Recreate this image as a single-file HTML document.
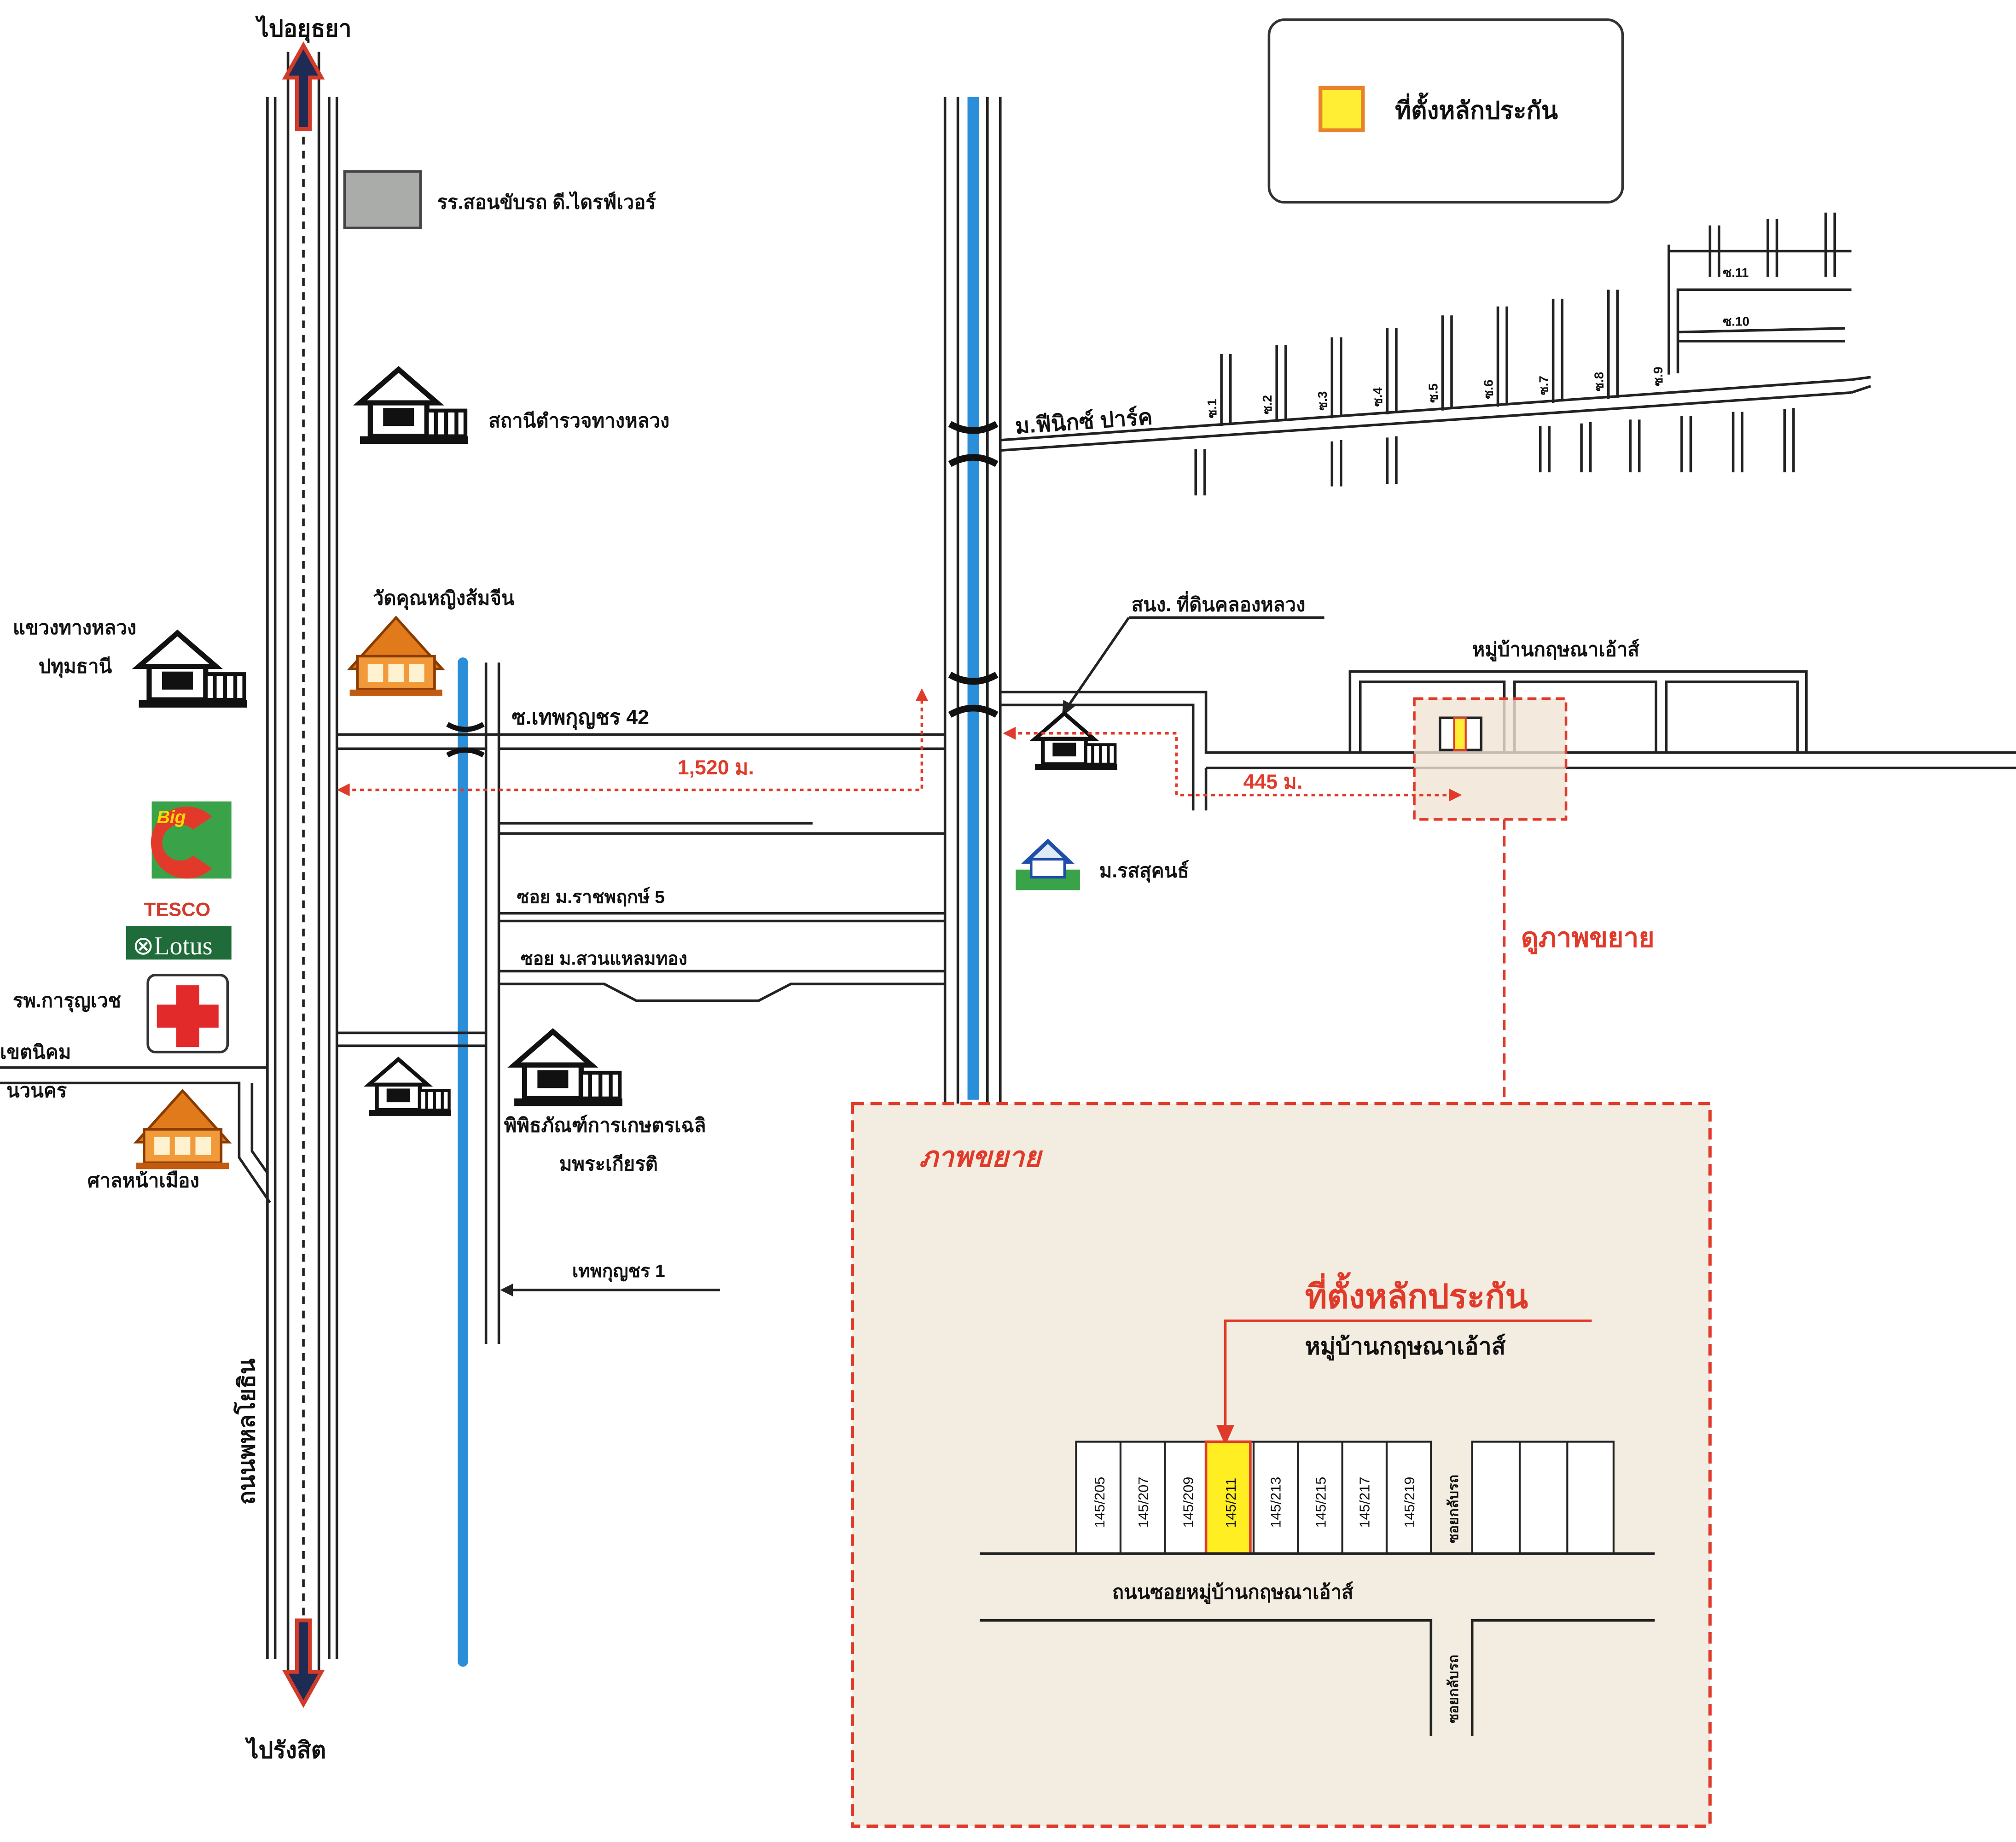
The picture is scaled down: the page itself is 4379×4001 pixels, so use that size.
<!DOCTYPE html>
<html><head><meta charset="utf-8">
<style>
html,body{margin:0;padding:0;background:#fff;}
svg{display:block;}
text{font-family:"Liberation Sans","DejaVu Sans",sans-serif;font-weight:bold;fill:#111;}
</style></head>
<body>
<svg width="4379" height="4001" viewBox="0 0 1568 1432" xmlns="http://www.w3.org/2000/svg">
<defs>
<g id="hut">
  <polygon points="0,28 30,2 60,28" fill="#fff" stroke="#111" stroke-width="4"/>
  <rect x="8" y="28" width="44" height="26" fill="#fff" stroke="#111" stroke-width="4"/>
  <rect x="18" y="32" width="24" height="14" fill="#111"/>
  <rect x="52" y="34" width="30" height="20" fill="#fff" stroke="#111" stroke-width="3"/>
  <line x1="59" y1="34" x2="59" y2="54" stroke="#111" stroke-width="3"/>
  <line x1="67" y1="34" x2="67" y2="54" stroke="#111" stroke-width="3"/>
  <line x1="75" y1="34" x2="75" y2="54" stroke="#111" stroke-width="3"/>
  <rect x="0" y="54" width="84" height="6" fill="#111"/>
</g>
<g id="temple">
  <polygon points="0,40 36,0 72,40" fill="#e07a1a" stroke="#8a3b00" stroke-width="2"/>
  <rect x="6" y="30" width="60" height="26" fill="#f29a3a" stroke="#8a3b00" stroke-width="2"/>
  <rect x="14" y="36" width="12" height="14" fill="#fff2d0"/>
  <rect x="30" y="36" width="12" height="14" fill="#fff2d0"/>
  <rect x="46" y="36" width="12" height="14" fill="#fff2d0"/>
  <rect x="0" y="56" width="72" height="5" fill="#c25a10"/>
</g>
<g id="bridge">
  <path d="M-14,-12 Q0,-4 14,-12 M-14,12 Q0,4 14,12" fill="none" stroke="#111" stroke-width="4"/>
</g>
</defs>

<!-- Main highway -->
<g stroke="#222" stroke-width="2" fill="none">
  <line x1="208" y1="75" x2="208" y2="1290"/>
  <line x1="214" y1="75" x2="214" y2="1290"/>
  <line x1="224" y1="40" x2="224" y2="1300"/>
  <line x1="248" y1="40" x2="248" y2="1300"/>
  <line x1="256" y1="75" x2="256" y2="1290"/>
  <line x1="262" y1="75" x2="262" y2="1290"/>
  <line x1="236" y1="40" x2="236" y2="1300" stroke-dasharray="6,5"/>
</g>
<!-- arrows -->
<g>
  <polygon points="236,35 222,60 231,60 231,100 241,100 241,60 250,60" fill="#1d2b55" stroke="#d23a2a" stroke-width="3"/>
  <polygon points="236,1325 222,1300 231,1300 231,1260 241,1260 241,1300 250,1300" fill="#1d2b55" stroke="#d23a2a" stroke-width="3"/>
</g>
<text x="200" y="28" font-size="18">ไปอยุธยา</text>
<text x="192" y="1367" font-size="18">ไปรังสิต</text>
<text transform="translate(198,1170) rotate(-90)" font-size="18">ถนนพหลโยธิน</text>

<!-- left POIs -->
<rect x="268" y="133" width="59" height="44" fill="#a9aca9" stroke="#444" stroke-width="2"/>
<text x="340" y="162" font-size="15">รร.สอนขับรถ ดี.ไดรฟ์เวอร์</text>
<use href="#hut" transform="translate(280,285)"/>
<text x="380" y="332" font-size="15">สถานีตำรวจทางหลวง</text>
<use href="#temple" transform="translate(272,480)"/>
<text x="290" y="470" font-size="15">วัดคุณหญิงส้มจีน</text>
<use href="#hut" transform="translate(108,490)"/>
<text x="10" y="493" font-size="15">แขวงทางหลวง</text>
<text x="30" y="523" font-size="15">ปทุมธานี</text>
<rect x="118" y="623" width="62" height="60" fill="#3aa34a"/>
<path d="M165,635 A28,28 0 1 0 165,675 L150,665 A14,14 0 1 1 150,645 Z" fill="#e23a2a"/>
<text x="122" y="640" font-size="14" fill="#ffd800" style="fill:#ffd800;font-style:italic">Big</text>
<text x="112" y="712" font-size="15" style="fill:#d23a2a">TESCO</text>
<rect x="98" y="720" width="82" height="26" fill="#1f6b3a"/>
<text x="103" y="742" font-size="20" style="fill:#fff;font-weight:normal;font-family:'Liberation Serif',serif">⊗Lotus</text>
<rect x="115" y="758" width="62" height="60" rx="6" fill="#fff" stroke="#333" stroke-width="2"/>
<path d="M137,766 h18 v15 h15 v18 h-15 v15 h-18 v-15 h-15 v-18 h15z" fill="#e22a2a"/>
<text x="10" y="783" font-size="15">รพ.การุญเวช</text>
<text x="0" y="823" font-size="15">เขตนิคม</text>
<text x="5" y="853" font-size="15">นวนคร</text>
<g stroke="#222" stroke-width="2" fill="none">
  <line x1="0" y1="830" x2="208" y2="830"/>
  <path d="M0,842 H186 V900 L210,935"/>
  <path d="M196,842 V895 L208,912"/>
</g>
<use href="#temple" transform="translate(106,848)"/>
<text x="68" y="923" font-size="15">ศาลหน้าเมือง</text>

<!-- canal 1 and road -->
<line x1="360" y1="515" x2="360" y2="1292" stroke="#2a8ed8" stroke-width="8" stroke-linecap="round"/>
<g stroke="#222" stroke-width="2" fill="none">
  <line x1="378" y1="515" x2="378" y2="1045"/>
  <line x1="388" y1="515" x2="388" y2="1045"/>
  <line x1="262" y1="571" x2="735" y2="571"/>
  <line x1="262" y1="582" x2="378" y2="582"/>
  <line x1="388" y1="582" x2="735" y2="582"/>
  <line x1="388" y1="640" x2="632" y2="640"/>
  <line x1="388" y1="648" x2="735" y2="648"/>
  <line x1="388" y1="710" x2="735" y2="710"/>
  <line x1="388" y1="716" x2="735" y2="716"/>
  <line x1="388" y1="755" x2="735" y2="755"/>
  <path d="M388,765 H470 L495,778 H590 L615,765 H735"/>
  <line x1="262" y1="803" x2="378" y2="803"/>
  <line x1="262" y1="813" x2="378" y2="813"/>
</g>
<use href="#bridge" transform="translate(362,575)"/>
<text x="398" y="563" font-size="16">ซ.เทพกุญชร 42</text>
<g stroke="#e03a2a" stroke-width="2" fill="none" stroke-dasharray="3,3">
  <polyline points="268,614 717,614 717,542"/>
</g>
<polygon points="262,614 272,609 272,619" fill="#e03a2a"/>
<polygon points="717,535 712,545 722,545" fill="#e03a2a"/>
<text x="527" y="602" font-size="16" style="fill:#e03a2a">1,520 ม.</text>
<text x="402" y="702" font-size="14">ซอย ม.ราชพฤกษ์ 5</text>
<text x="405" y="750" font-size="14">ซอย ม.สวนแหลมทอง</text>
<use href="#hut" transform="translate(287,822) scale(0.76)"/>
<use href="#hut" transform="translate(400,800)"/>
<text x="392" y="880" font-size="15">พิพิธภัณฑ์การเกษตรเฉลิ</text>
<text x="435" y="910" font-size="15">มพระเกียรติ</text>
<text x="445" y="993" font-size="14">เทพกุญชร 1</text>
<line x1="560" y1="1003" x2="395" y2="1003" stroke="#222" stroke-width="2"/>
<polygon points="389,1003 399,998 399,1008" fill="#222"/>

<!-- canal 2 -->
<line x1="757" y1="75" x2="757" y2="855" stroke="#2a8ed8" stroke-width="9"/>
<g stroke="#222" stroke-width="2" fill="none">
  <line x1="735" y1="75" x2="735" y2="858"/>
  <line x1="745" y1="75" x2="745" y2="858"/>
  <line x1="768" y1="75" x2="768" y2="858"/>
  <line x1="778" y1="75" x2="778" y2="858"/>
</g>
<use href="#bridge" transform="translate(757,345) scale(1.3)"/>
<use href="#bridge" transform="translate(757,540) scale(1.3)"/>

<!-- Phoenix park -->
<g stroke="#222" stroke-width="2" fill="none">
  <line x1="778" y1="342" x2="1440" y2="295"/>
  <line x1="778" y1="350" x2="1440" y2="305"/>
  <path d="M1440,295 L1455,293 M1440,305 L1455,300"/>
  <path d="M1298,291 V195 H1440 M1305,290 V225 H1440 M1305,265 H1435 M1305,258 V258 M1298,195 V190"/>
  <line x1="1305" y1="258" x2="1435" y2="255"/>
  <path d="M1330,215 V175 M1337,215 V175 M1375,215 V170 M1382,215 V170 M1420,215 V165 M1427,215 V165"/>
</g>
<g stroke="#222" stroke-width="2" fill="none" id="ups">
  <path d="M950,331 V275 M957,330 V275"/>
  <path d="M993,328 V268 M1000,327 V268"/>
  <path d="M1036,325 V262 M1043,324 V262"/>
  <path d="M1079,322 V255 M1086,321 V255"/>
  <path d="M1122,319 V245 M1129,318 V245"/>
  <path d="M1165,316 V238 M1172,315 V238"/>
  <path d="M1208,313 V232 M1215,312 V232"/>
  <path d="M1251,310 V225 M1258,309 V225"/>
  <path d="M930,349 V385 M937,349 V385"/>
  <path d="M1036,343 V378 M1043,342 V378"/>
  <path d="M1079,340 V376 M1086,339 V376"/>
  <path d="M1198,331 V367 M1205,331 V367"/>
  <path d="M1230,329 V367 M1237,328 V367"/>
  <path d="M1268,326 V367 M1275,326 V367"/>
  <path d="M1308,323 V367 M1315,323 V367"/>
  <path d="M1348,320 V367 M1355,320 V367"/>
  <path d="M1388,318 V367 M1395,317 V367"/>
</g>
<g font-size="10">
  <text transform="translate(946,325) rotate(-90)">ซ.1</text>
  <text transform="translate(989,322) rotate(-90)">ซ.2</text>
  <text transform="translate(1032,319) rotate(-90)">ซ.3</text>
  <text transform="translate(1075,316) rotate(-90)">ซ.4</text>
  <text transform="translate(1118,313) rotate(-90)">ซ.5</text>
  <text transform="translate(1161,310) rotate(-90)">ซ.6</text>
  <text transform="translate(1204,307) rotate(-90)">ซ.7</text>
  <text transform="translate(1247,304) rotate(-90)">ซ.8</text>
  <text transform="translate(1293,300) rotate(-90)">ซ.9</text>
  <text x="1340" y="253">ซ.10</text>
  <text x="1340" y="215">ซ.11</text>
</g>
<text x="790" y="337" font-size="17" transform="rotate(-4 790 337)">ม.ฟีนิกซ์ ปาร์ค</text>

<!-- legend -->
<rect x="987" y="15" width="275" height="142" rx="12" fill="#fff" stroke="#333" stroke-width="2"/>
<rect x="1027" y="68" width="33" height="33" fill="#ffee33" stroke="#e8832a" stroke-width="3"/>
<text x="1085" y="92" font-size="19">ที่ตั้งหลักประกัน</text>

<!-- land office -->
<text x="880" y="475" font-size="15">สนง. ที่ดินคลองหลวง</text>
<line x1="878" y1="480" x2="1030" y2="480" stroke="#222" stroke-width="2"/>
<line x1="878" y1="480" x2="830" y2="550" stroke="#222" stroke-width="2"/>
<polygon points="826,557 827,544 836,549" fill="#222"/>
<use href="#hut" transform="translate(805,553) scale(0.76)"/>
<g stroke="#222" stroke-width="2" fill="none">
  <path d="M778,538 H938 V585 H1568"/>
  <path d="M778,548 H928 V630 M938,597 V630 M938,597 H1568"/>
  <rect x="1050" y="522" width="355" height="63"/>
  <rect x="1058" y="530" width="112" height="55"/>
  <rect x="1178" y="530" width="110" height="55"/>
  <rect x="1296" y="530" width="102" height="55"/>
</g>
<text x="1145" y="510" font-size="15">หมู่บ้านกฤษณาเอ้าส์</text>
<rect x="1100" y="543" width="118" height="94" fill="#f0e4d4" fill-opacity="0.8" stroke="#e03a2a" stroke-width="2" stroke-dasharray="7,4"/>
<rect x="1120" y="558" width="32" height="25" fill="#fff" stroke="#222" stroke-width="2"/>
<rect x="1131" y="558" width="9" height="25" fill="#ffee33" stroke="#e03a2a" stroke-width="1.5"/>
<g stroke="#e03a2a" stroke-width="2" fill="none" stroke-dasharray="3,3">
  <polyline points="786,570 915,570 915,618 1130,618"/>
</g>
<polygon points="780,570 790,565 790,575" fill="#e03a2a"/>
<polygon points="1137,618 1127,613 1127,623" fill="#e03a2a"/>
<text x="967" y="613" font-size="16" style="fill:#e03a2a">445 ม.</text>
<g transform="translate(790,648)">
  <rect x="0" y="28" width="50" height="16" fill="#3aa34a"/>
  <polygon points="8,22 25,6 42,22" fill="#dfe9f7" stroke="#1f4ea8" stroke-width="3"/>
  <rect x="12" y="20" width="26" height="14" fill="#fff" stroke="#1f4ea8" stroke-width="2"/>
</g>
<text x="855" y="682" font-size="15">ม.รสสุคนธ์</text>
<text x="1183" y="736" font-size="21" style="fill:#e03a2a">ดูภาพขยาย</text>
<line x1="1170" y1="637" x2="1170" y2="858" stroke="#e03a2a" stroke-width="2" stroke-dasharray="8,5"/>

<!-- enlarged view -->
<rect x="663" y="858" width="667" height="562" fill="#f3ece0" stroke="#e03a2a" stroke-width="2.5" stroke-dasharray="9,5"/>
<text x="715" y="907" font-size="22" style="fill:#e03a2a;font-style:italic">ภาพขยาย</text>
<text x="1015" y="1017" font-size="26" style="fill:#e03a2a">ที่ตั้งหลักประกัน</text>
<text x="1015" y="1053" font-size="18">หมู่บ้านกฤษณาเอ้าส์</text>
<polyline points="1238,1027 953,1027 953,1112" fill="none" stroke="#e03a2a" stroke-width="2"/>
<polygon points="953,1124 946,1108 960,1108" fill="#e03a2a"/>
<g stroke="#222" stroke-width="1.5">
  <rect x="837" y="1121" width="276" height="87" fill="#fff"/>
  <rect x="938" y="1121" width="34.5" height="87" fill="#ffee22" stroke="#e03a2a" stroke-width="2"/>
  <line x1="871.5" y1="1121" x2="871.5" y2="1208"/>
  <line x1="906" y1="1121" x2="906" y2="1208"/>
  <line x1="975" y1="1121" x2="975" y2="1208"/>
  <line x1="1009.5" y1="1121" x2="1009.5" y2="1208"/>
  <line x1="1044" y1="1121" x2="1044" y2="1208"/>
  <line x1="1078.5" y1="1121" x2="1078.5" y2="1208"/>
  <rect x="1145" y="1121" width="110" height="87" fill="#fff"/>
  <line x1="1182" y1="1121" x2="1182" y2="1208"/>
  <line x1="1219" y1="1121" x2="1219" y2="1208"/>
</g>
<g font-size="11" style="font-weight:normal">
  <text transform="translate(859,1188) rotate(-90)" style="font-weight:normal">145/205</text>
  <text transform="translate(893,1188) rotate(-90)" style="font-weight:normal">145/207</text>
  <text transform="translate(928,1188) rotate(-90)" style="font-weight:normal">145/209</text>
  <text transform="translate(961,1188) rotate(-90)" style="font-weight:normal">145/211</text>
  <text transform="translate(996,1188) rotate(-90)" style="font-weight:normal">145/213</text>
  <text transform="translate(1031,1188) rotate(-90)" style="font-weight:normal">145/215</text>
  <text transform="translate(1065,1188) rotate(-90)" style="font-weight:normal">145/217</text>
  <text transform="translate(1100,1188) rotate(-90)" style="font-weight:normal">145/219</text>
  <text transform="translate(1134,1200) rotate(-90)">ซอยกลับรถ</text>
  <text transform="translate(1134,1340) rotate(-90)">ซอยกลับรถ</text>
</g>
<g stroke="#222" stroke-width="2" fill="none">
  <line x1="762" y1="1208" x2="1287" y2="1208"/>
  <path d="M762,1260 H1113 V1350"/>
  <path d="M1287,1260 H1145 V1350"/>
</g>
<text x="865" y="1243" font-size="15">ถนนซอยหมู่บ้านกฤษณาเอ้าส์</text>
</svg>
</body></html>
